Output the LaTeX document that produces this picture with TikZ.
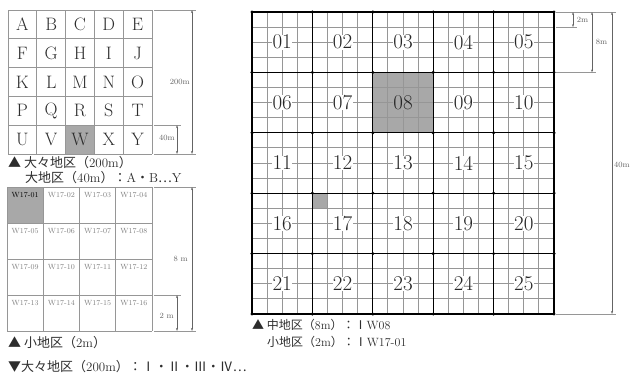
\documentclass[tikz,border=0pt]{standalone}
\usepackage{fontspec}
\usepackage{tikz}
\newfontfamily\jpfont{Noto Sans CJK JP}
\newcommand\jp[1]{{\jpfont #1}}
\usetikzlibrary{arrows.meta}
\definecolor{inkgray}{RGB}{45,45,45}
\definecolor{gridgray}{RGB}{150,150,150}
\definecolor{shadegray}{RGB}{168,168,168}
\definecolor{dimgray}{RGB}{100,100,100}

\begin{document}
\begin{tikzpicture}[x=1pt, y=-1pt,
  thingrid/.style={draw=gridgray, line width=1pt},
  maingrid/.style={draw=black, line width=1.2pt},
  dimline/.style={draw=dimgray, line width=0.5pt, {Stealth[length=3pt,width=2pt]}-{Stealth[length=3pt,width=2pt]}},
  extline/.style={draw=gridgray, line width=0.5pt},
  dimlabel/.style={font=\fontsize{8}{8}\selectfont, text=dimgray, inner sep=1pt},
  letter/.style={font=\fontsize{18}{18}\selectfont, text=inkgray},
  plotno/.style={font=\fontsize{21}{21}\selectfont, text=black!85, fill=white, inner sep=0.3pt},
  sublabel/.style={font=\fontsize{7.5}{7.5}\selectfont, text=gray, inner sep=0pt},
  caption/.style={font=\fontsize{13}{13}\selectfont, text=inkgray, anchor=west, inner sep=0pt},
]
  \useasboundingbox (0,0) rectangle (631,378);

  % large section A..Y (200m)
  \fill[shadegray] (8+2*28.8,10+4*28.8) rectangle ++(28.8,28.8);
  \foreach \i in {0,...,5} {
    \draw[thingrid] (8+\i*28.8,10) -- (8+\i*28.8,154);
    \draw[thingrid] (8,10+\i*28.8) -- (152,10+\i*28.8);
  }
  \foreach \l [count=\n from 0] in {A,...,Y} {
    \pgfmathtruncatemacro\col{mod(\n,5)}
    \pgfmathtruncatemacro\row{\n/5}
    \node[letter] (dai-\l) at (22.4+\col*28.8,24.4+\row*28.8) {\l};
  }
  \coordinate (d200t) at (192,10);
  \coordinate (d200b) at (192,154);
  \coordinate (d40t) at (177,125.2);
  \coordinate (d40b) at (177,154);
  \draw[extline] (154,10) -- (196,10);
  \draw[extline] (154,154) -- (196,154);
  \draw[extline] (154,125.2) -- (181,125.2);
  \draw[dimline] (d200t) -- (d200b);
  \draw[dimline] (d40t) -- (d40b);
  \node[dimlabel, anchor=east] (lbl200) at (191,82) {200m};
  \node[dimlabel, anchor=east] (lbl40) at (176,138) {40m};

  \node[caption] (cap-dd) at (8,163) {\jp{▲ 大々地区（}200m\jp{）}};
  \node[caption] (cap-d) at (25,178) {\jp{大地区（}40m\jp{）：}A\jp{・}B\jp{…}Y};

  % small section W17 (8m)
  \fill[shadegray] (7,187) rectangle ++(36.25,36);
  \foreach \i in {0,...,4} {
    \draw[thingrid] (7+\i*36.25,187) -- (7+\i*36.25,331);
    \draw[thingrid] (7,187+\i*36) -- (152,187+\i*36);
  }
  \foreach \n in {1,...,16} {
    \pgfmathtruncatemacro\col{mod(\n-1,4)}
    \pgfmathtruncatemacro\row{(\n-1)/4}
    \ifnum\n=1 \def\tcol{black}\else\def\tcol{gray}\fi
    \node[sublabel, text=\tcol] (sho-\n)
      at (25.1+\col*36.25,195.5+\row*36) {W17-\ifnum\n<10 0\fi\n};
  }
  \coordinate (d8t) at (192,187);
  \coordinate (d8b) at (192,331);
  \coordinate (d2t) at (177,295);
  \coordinate (d2b) at (177,331);
  \draw[extline] (154,187) -- (196,187);
  \draw[extline] (154,331) -- (196,331);
  \draw[extline] (154,295) -- (181,295);
  \draw[dimline] (d8t) -- (d8b);
  \draw[dimline] (d2t) -- (d2b);
  \node[dimlabel, anchor=east] (lbl8) at (189,259) {8 m};
  \node[dimlabel, anchor=east] (lbl2) at (175,316) {2 m};

  \node[caption] (cap-s) at (8,343) {\jp{▲ 小地区（}2m\jp{）}};
  \node[caption] (cap-roman) at (8,367) {\jp{▼大々地区（}200m\jp{）：Ⅰ・Ⅱ・Ⅲ・Ⅳ…}};

  % middle section 01..25 with 2m grid
  \fill[shadegray] (252+8*15.1,12+4*15.1) rectangle ++(60.4,60.4);
  \fill[shadegray] (252+4*15.1,12+12*15.1) rectangle ++(15.1,15.1);
  \foreach \i in {0,...,20} {
    \draw[thingrid] (252+\i*15.1,12) -- (252+\i*15.1,314);
    \draw[thingrid] (252,12+\i*15.1) -- (554,12+\i*15.1);
  }
  \foreach \i in {0,...,5} {
    \draw[maingrid] (252+\i*60.4,12) -- (252+\i*60.4,314);
    \draw[maingrid] (252,12+\i*60.4) -- (554,12+\i*60.4);
  }
  \foreach \i in {0,...,5}
    \foreach \j in {0,...,5}
      \fill (252+\i*60.4,12+\j*60.4) circle (1.7pt);
  \foreach \n in {1,...,25} {
    \pgfmathtruncatemacro\col{mod(\n-1,5)}
    \pgfmathtruncatemacro\row{(\n-1)/5}
    \ifnum\n=8 \def\bcol{shadegray}\else\def\bcol{white}\fi
    \node[plotno, fill=\bcol] (chu-\n)
      at (282.2+\col*60.4,42.2+\row*60.4) {\ifnum\n<10 0\fi\n};
  }
  \coordinate (m2t) at (573,12);
  \coordinate (m2b) at (573,27.1);
  \coordinate (m8t) at (592,12);
  \coordinate (m8b) at (592,72.4);
  \coordinate (m40t) at (612,12);
  \coordinate (m40b) at (612,314);
  \draw[extline] (556,12) -- (616,12);
  \draw[extline] (556,27.1) -- (577,27.1);
  \draw[extline] (556,72.4) -- (596,72.4);
  \draw[extline] (556,314) -- (616,314);
  \draw[dimline] (m2t) -- (m2b);
  \draw[dimline] (m8t) -- (m8b);
  \draw[dimline] (m40t) -- (m40b);
  \node[dimlabel] (lblm2) at (582.5,19.5) {2m};
  \node[dimlabel] (lblm8) at (601.5,42) {8m};
  \node[dimlabel] (lblm40) at (622,165) {40m};

  \node[caption, font=\fontsize{12}{12}\selectfont] (cap-m) at (252,325) {\jp{▲ 中地区（}8m\jp{）：Ⅰ}W08};
  \node[caption, font=\fontsize{12}{12}\selectfont] (cap-sm) at (267,342) {\jp{小地区（}2m\jp{）：Ⅰ}W17-01};
\end{tikzpicture}
\end{document}
